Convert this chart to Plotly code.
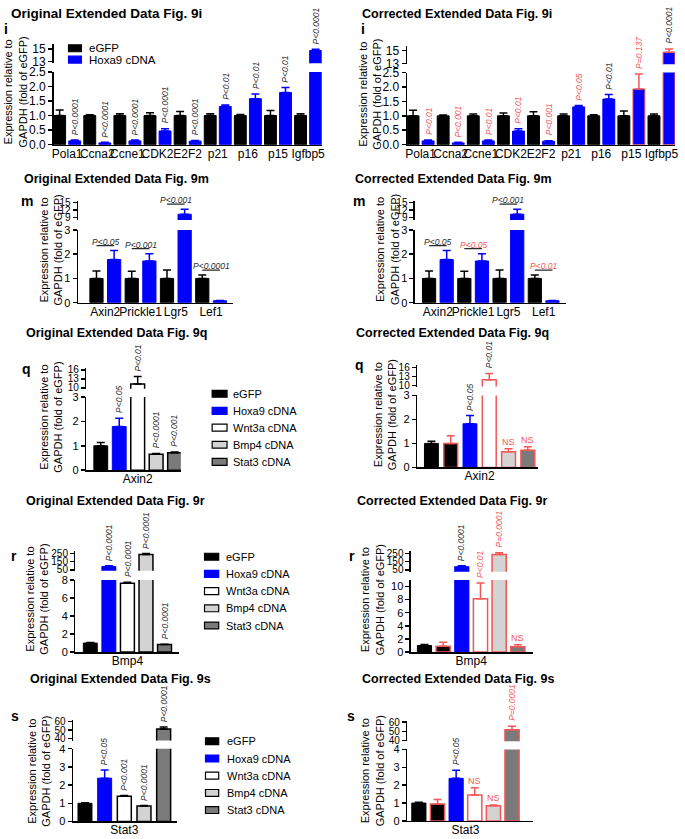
import plotly.graph_objects as go

# ---------------- data ----------------
# Panel i
i_genes = ["Pola1", "Ccna2", "Ccne1", "CDK2", "E2F2", "p21", "p16", "p15", "Igfbp5"]
i_egfp = [1.0, 1.0, 1.0, 1.0, 1.0, 1.0, 1.0, 1.0, 1.0]
i_egfp_err = [0.19, 0.03, 0.06, 0.10, 0.14, 0.06, 0.04, 0.17, 0.06]
i_hoxa9_orig = [0.13, 0.06, 0.13, 0.47, 0.12, 1.31, 1.58, 1.79, 14.75]
i_hoxa9_orig_err = [0.03, 0.02, 0.03, 0.08, 0.02, 0.05, 0.16, 0.17, 0.20]
i_p_orig = ["P<0.0001", "P<0.0001", "P<0.0001", "P<0.0001", "P<0.0001",
            "P<0.01", "P<0.01", "P<0.01", "P<0.0001"]
i_hoxa9_corr = [0.13, 0.06, 0.13, 0.47, 0.12, 1.31, 1.58, 1.93, 14.75]
i_hoxa9_corr_err = [0.03, 0.02, 0.03, 0.08, 0.02, 0.05, 0.16, 0.52, 0.50]
i_p_corr = ["P<0.01", "P<0.001", "P<0.01", "P<0.01", "P<0.001",
            "P<0.05", "P<0.01", "P=0.137", "P<0.0001"]
i_p_corr_changed = [1, 1, 1, 1, 1, 1, 0, 1, 0]
i_bar_corr_changed = [0, 0, 0, 0, 0, 0, 0, 1, 1]

# Panel m
m_genes = ["Axin2", "Prickle1", "Lgr5", "Lef1"]
m_egfp = [1.0, 1.0, 1.0, 1.0]
m_egfp_err = [0.31, 0.30, 0.35, 0.14]
m_hoxa9 = [1.78, 1.72, 10.4, 0.08]
m_hoxa9_err = [0.37, 0.30, 2.0, 0.01]
m_p_orig = ["P<0.05", "P<0.001", "P<0.001", "P<0.0001"]
m_p_corr = ["P<0.05", "P<0.05", "P<0.001", "P<0.01"]
m_p_corr_changed = [0, 1, 0, 1]

# Groups for q, r, s
orig_groups = ["eGFP", "Hoxa9 cDNA", "Wnt3a cDNA", "Bmp4 cDNA", "Stat3 cDNA"]
corr_groups = ["eGFP", "eGFP (repeat)", "Hoxa9 cDNA", "Wnt3a cDNA", "Bmp4 cDNA", "Stat3 cDNA"]
corr_bar_changed = [0, 1, 0, 1, 1, 1]

# Panel q
q_gene = ["Axin2"]
q_orig = [1.0, 1.79, 11.3, 0.65, 0.71]
q_orig_err = [0.13, 0.34, 2.5, 0.03, 0.03]
q_p_orig = ["", "P<0.05", "P<0.01", "P<0.0001", "P<0.001"]
q_corr = [1.0, 1.0, 1.82, 11.9, 0.66, 0.72]
q_corr_err = [0.09, 0.32, 0.34, 2.1, 0.12, 0.14]
q_p_corr = ["", "", "P<0.05", "P<0.01", "NS", "NS"]
q_p_corr_changed = [0, 0, 0, 0, 1, 1]

# Panel r
r_gene = ["Bmp4"]
r_orig = [1.0, 90, 7.64, 238, 0.84]
r_orig_err = [0.05, 8, 0.12, 12, 0.04]
r_p_orig = ["", "P<0.0001", "P<0.0001", "P<0.0001", "P<0.0001"]
r_corr = [1.0, 0.9, 88, 8.14, 238, 0.82]
r_corr_err = [0.15, 0.6, 10, 2.4, 20, 0.3]
r_p_corr = ["", "", "P<0.0001", "P<0.01", "P=0.0001", "NS"]
r_p_corr_changed = [0, 0, 0, 1, 1, 1]

# Panel s
s_gene = ["Stat3"]
s_orig = [1.0, 2.38, 1.38, 0.85, 51.2]
s_orig_err = [0.03, 0.45, 0.05, 0.03, 2.3]
s_p_orig = ["", "P<0.05", "P<0.001", "P<0.0001", "P<0.0001"]
s_corr = [1.0, 0.95, 2.38, 1.45, 0.85, 51.8]
s_corr_err = [0.04, 0.25, 0.45, 0.4, 0.04, 3.7]
s_p_corr = ["", "", "P<0.05", "NS", "NS", "P=0.0001"]
s_p_corr_changed = [0, 0, 0, 1, 1, 1]

# ---------------- styling ----------------
W, H = 685, 839
FONT = "Liberation Sans, Arial, Helvetica, sans-serif"
BLACK, BLUE, WHITE = "#000000", "#0000ff", "#ffffff"
LGRAY, DGRAY = "#d3d3d3", "#7a7a7a"
RED = "#f25757"
PTXT = "#2a2a2a"
YTITLE = "Expression relative to<br>GAPDH (fold of eGFP)"

STYLE = {
    "eGFP": dict(fill=BLACK, line=BLACK, errc=BLACK, lw=1),
    "eGFP (repeat)": dict(fill=BLACK, line=BLACK, errc=BLACK, lw=1.5),
    "Hoxa9 cDNA": dict(fill=BLUE, line=BLUE, errc=BLUE, lw=1),
    "Wnt3a cDNA": dict(fill=WHITE, line=BLACK, errc=BLACK, lw=1.5),
    "Bmp4 cDNA": dict(fill=LGRAY, line=BLACK, errc=BLACK, lw=1.5),
    "Stat3 cDNA": dict(fill=DGRAY, line=BLACK, errc=BLACK, lw=1.5),
}


def px(x):
    return x / W


def py(y):
    return 1 - y / H


fig = go.Figure()
lay = {}
annots = []
shapes = []
axis_count = [0]


def new_pair():
    axis_count[0] += 1
    n = axis_count[0]
    sfx = "" if n == 1 else str(n)
    return "x" + sfx, "y" + sfx, "xaxis" + sfx, "yaxis" + sfx


def ptext(lab):
    return "<i>" + lab.replace("<", "&lt;") + "</i>"


def panel(cats, series, geo, compare=False):
    xl, yl, xlk, ylk = new_pair()
    xu, yu, xuk, yuk = new_pair()
    dom_x = [px(geo["x"][0]), px(geo["x"][1])]
    lt, lb, l0, l1, lticks, lfmt = geo["low"]
    ut, ub, u0, u1, uticks = geo["up"]
    ycommon = dict(showline=True, linecolor=BLACK, linewidth=1.5, ticks="outside",
                   ticklen=4, tickwidth=1.5, tickcolor=BLACK, showgrid=False,
                   zeroline=False, fixedrange=True)
    lay[xlk] = dict(domain=dom_x, range=geo["xr"], type="category",
                    categoryorder="array", categoryarray=cats, anchor=yl,
                    showline=True, linecolor=BLACK, linewidth=1.5, ticks="",
                    showgrid=False, zeroline=False, tickangle=0, fixedrange=True,
                    ticklabelstandoff=-3,
                    tickfont=dict(family=FONT, size=12, color=BLACK))
    lay[xuk] = dict(domain=dom_x, range=geo["xr"], type="category",
                    categoryorder="array", categoryarray=cats, anchor=yu,
                    visible=False, fixedrange=True)
    ylow = dict(domain=[py(lb), py(lt)], range=[l0, l1], anchor=xl,
                tickmode="array", tickvals=lticks,
                tickfont=dict(family=FONT, size=geo["tickfont"], color=BLACK), **ycommon)
    if lfmt:
        ylow["tickformat"] = lfmt
    lay[ylk] = ylow
    lay[yuk] = dict(domain=[py(ub), py(ut)], range=[u0, u1], anchor=xu,
                    tickmode="array", tickvals=uticks,
                    tickfont=dict(family=FONT, size=geo.get("uptickfont", geo["tickfont"]),
                                  color=BLACK), **ycommon)

    n = len(series)
    f = geo["f"]
    wbar = f / n
    tops = [0.0] * len(cats)
    for k, s in enumerate(series):
        off = -0.5 + (k + (1 - f) / 2) / n
        vals, errs = s["y"], s["err"]
        changed = s.get("changed", [0] * len(vals))
        for flag in (False, True):
            yv = [v if bool(c) == flag else None for v, c in zip(vals, changed)]
            if all(v is None for v in yv):
                continue
            ev = [e if bool(c) == flag else 0 for e, c in zip(errs, changed)]
            line_c = RED if flag else s["line"]
            err_c = RED if flag else s["errc"]
            for xa, ya in ((xl, yl), (xu, yu)):
                fig.add_trace(go.Bar(
                    x=cats, y=yv, width=wbar, offset=off, xaxis=xa, yaxis=ya,
                    name=s["name"], showlegend=False, hoverinfo="skip",
                    marker=dict(color=s["fill"], line=dict(color=line_c, width=s["lw"])),
                    error_y=dict(type="data", array=ev, arrayminus=[0] * len(ev),
                                 symmetric=False, color=err_c, thickness=1.5, width=4)))
        for i, (v, e) in enumerate(zip(vals, errs)):
            tops[i] = max(tops[i], v + e)
        if compare:
            continue
        labels = s.get("p", [""] * len(vals))
        pchg = s.get("pchanged", [0] * len(vals))
        for i, lab in enumerate(labels):
            if not lab:
                continue
            top = vals[i] + errs[i]
            yref = yl if top <= l1 else yu
            xc = i + off + wbar / 2
            color = RED if pchg[i] else PTXT
            if lab == "NS":
                annots.append(dict(x=xc, y=top, xref=xl, yref=yref, text=lab,
                                   showarrow=False, xanchor="center", yanchor="bottom",
                                   yshift=0, font=dict(family=FONT, size=9, color=color)))
            else:
                annots.append(dict(x=xc, y=top, xref=xl, yref=yref, text=ptext(lab),
                                   showarrow=False, textangle=-90, xanchor="center",
                                   yanchor="bottom", yshift=3,
                                   font=dict(family=FONT, size=8.5, color=color)))
    if compare:
        labels = geo["plabels"]
        pchg = geo.get("pchanged", [0] * len(cats))
        half = 0.5 / n
        for i, lab in enumerate(labels):
            top = tops[i]
            yref = yl if top <= l1 else yu
            shapes.append(dict(type="line", xref=xl, yref=yref, x0=i - half, x1=i + half,
                               ysizemode="pixel", yanchor=top, y0=5, y1=5,
                               line=dict(color=PTXT, width=1.2)))
            annots.append(dict(x=i, y=top, xref=xl, yref=yref, text=ptext(lab),
                               showarrow=False, xanchor="center", yanchor="middle",
                               yshift=9, font=dict(family=FONT, size=8.5,
                                                   color=RED if pchg[i] else PTXT)))


def series_groups(groups, vals, errs, plabels, bar_changed=None, p_changed=None):
    out = []
    for k, g in enumerate(groups):
        d = dict(name=g, y=[vals[k]], err=[errs[k]], p=[plabels[k]],
                 changed=[bar_changed[k] if bar_changed else 0],
                 pchanged=[p_changed[k] if p_changed else 0])
        d.update(STYLE[g])
        out.append(d)
    return out


def text(x, y, s, size, bold=False, anchor="left"):
    annots.append(dict(xref="paper", yref="paper", x=px(x), y=py(y),
                       text=("<b>%s</b>" % s) if bold else s, showarrow=False,
                       xanchor=anchor, yanchor="middle",
                       font=dict(family=FONT, size=size, color=BLACK)))


def ytitle(x, y):
    annots.append(dict(xref="paper", yref="paper", x=px(x), y=py(y), text=YTITLE,
                       textangle=-90, showarrow=False, xanchor="center",
                       yanchor="middle", font=dict(family=FONT, size=11, color=BLACK)))


def legend(sw, tx, rows, names, size=11):
    for name, yy in zip(names, rows):
        st = STYLE[name]
        shapes.append(dict(type="rect", xref="paper", yref="paper",
                           x0=px(sw[0]), x1=px(sw[1]), y0=py(yy + 3.5), y1=py(yy - 3.5),
                           fillcolor=st["fill"], line=dict(color=st["line"], width=1.2)))
        text(tx, yy, name, size)


# ---------------- panel i ----------------
i_series_orig = [
    dict(name="eGFP", y=i_egfp, err=i_egfp_err, **STYLE["eGFP"]),
    dict(name="Hoxa9 cDNA", y=i_hoxa9_orig, err=i_hoxa9_orig_err, p=i_p_orig, **STYLE["Hoxa9 cDNA"]),
]
panel(i_genes, i_series_orig, dict(x=(52, 322), xr=[-0.45, 8.45], f=0.79, tickfont=12,
                                   low=(66, 140, 0, 2.5, [0, 0.5, 1, 1.5, 2, 2.5], ".1f"),
                                   up=(37.3, 57.3, 12.68, 15.86, [13, 15])))
i_series_corr = [
    dict(name="eGFP", y=i_egfp, err=i_egfp_err, **STYLE["eGFP"]),
    dict(name="Hoxa9 cDNA", y=i_hoxa9_corr, err=i_hoxa9_corr_err, p=i_p_corr,
         pchanged=i_p_corr_changed, changed=i_bar_corr_changed, **STYLE["Hoxa9 cDNA"]),
]
panel(i_genes, i_series_corr, dict(x=(408, 678), xr=[-0.45, 8.45], f=0.79, tickfont=12,
                                   low=(66.7, 140, 0, 2.5, [0, 0.5, 1, 1.5, 2, 2.5], ".1f"),
                                   up=(39.3, 58.3, 12.85, 15.77, [13, 15])))
text(7, 7, "Original Extended Data Fig. 9i", 13.5, bold=True)
text(361, 7, "Corrected Extended Data Fig. 9i", 12.6, bold=True)
text(4, 22, "i", 14, bold=True, anchor="center")
text(364, 22, "i", 14, bold=True, anchor="center")
ytitle(13, 86)
ytitle(370, 89)
legend((67, 80), 86, [42, 53.5], ["eGFP", "Hoxa9 cDNA"], size=11.5)

# ---------------- panel m ----------------
m_series = [
    dict(name="eGFP", y=m_egfp, err=m_egfp_err, **STYLE["eGFP"]),
    dict(name="Hoxa9 cDNA", y=m_hoxa9, err=m_hoxa9_err, **STYLE["Hoxa9 cDNA"]),
]
panel(m_genes, m_series, dict(x=(76.7, 233), xr=[-0.77, 3.63], f=0.75, tickfont=11,
                              uptickfont=10,
                              low=(226.7, 300.7, 0, 3, [0, 1, 2, 3], None),
                              up=(197.3, 216.7, 8.06, 15.67, [9, 12, 15]),
                              plabels=m_p_orig), compare=True)
panel(m_genes, m_series, dict(x=(416, 568), xr=[-0.65, 3.63], f=0.75, tickfont=11,
                              uptickfont=10,
                              low=(226.7, 300.7, 0, 3, [0, 1, 2, 3], None),
                              up=(197.3, 216.7, 8.06, 15.67, [9, 12, 15]),
                              plabels=m_p_corr, pchanged=m_p_corr_changed), compare=True)
text(20, 175, "Original Extended Data Fig. 9m", 12.5, bold=True)
text(354, 175, "Corrected Extended Data Fig. 9m", 12.5, bold=True)
text(25, 197, "m", 14, bold=True, anchor="center")
text(360, 197, "m", 14, bold=True, anchor="center")
ytitle(49, 247)
ytitle(388, 247)

# ---------------- panel q ----------------
panel(q_gene, series_groups(orig_groups, q_orig, q_orig_err, q_p_orig),
      dict(x=(85, 180), xr=[-0.556, 0.466], f=0.75, tickfont=11, uptickfont=10,
           low=(396.7, 471, 0, 3, [0, 1, 2, 3], None),
           up=(367.3, 388.3, 9.67, 16.55, [10, 13, 16])))
panel(q_gene, series_groups(corr_groups, q_corr, q_corr_err, q_p_corr,
                            corr_bar_changed, q_p_corr_changed),
      dict(x=(418.3, 540), xr=[-0.539, 0.505], f=0.72, tickfont=11, uptickfont=10,
           low=(395, 468.3, 0, 3, [0, 1, 2, 3], None),
           up=(364, 386, 9.67, 16.85, [10, 13, 16])))
text(22, 332, "Original Extended Data Fig. 9q", 12.5, bold=True)
text(355, 332, "Corrected Extended Data Fig. 9q", 12.5, bold=True)
text(25, 368, "q", 14, bold=True, anchor="center")
text(360, 364, "q", 14, bold=True, anchor="center")
ytitle(49, 417)
ytitle(386, 415)
legend((211.7, 226.7), 231, [393.3, 410.7, 427.8, 445.2, 462.6], orig_groups)

# ---------------- panel r ----------------
panel(r_gene, series_groups(orig_groups, r_orig, r_orig_err, r_p_orig),
      dict(x=(74, 178.3), xr=[-0.56, 0.556], f=0.75, tickfont=11, uptickfont=10,
           low=(582.7, 656, 0, 8, [0, 2, 4, 6, 8], None),
           up=(553.3, 573.3, 38, 279, [50, 150, 250])))
panel(r_gene, series_groups(corr_groups, r_corr, r_corr_err, r_p_corr,
                            corr_bar_changed, r_p_corr_changed),
      dict(x=(412, 535), xr=[-0.537, 0.553], f=0.76, tickfont=11, uptickfont=10,
           low=(582.7, 656, 0, 11, [0, 2, 4, 6, 8, 10], None),
           up=(553.3, 574.3, 26, 279, [50, 150, 250])))
text(22, 502, "Original Extended Data Fig. 9r", 12.5, bold=True)
text(356, 502, "Corrected Extended Data Fig. 9r", 12.5, bold=True)
text(12.5, 558, "r", 14, bold=True, anchor="center")
text(352.5, 558, "r", 14, bold=True, anchor="center")
ytitle(35, 602)
ytitle(373, 603)
legend((204, 218.3), 224, [559, 576.5, 594, 611.5, 629], orig_groups)

# ---------------- panel s ----------------
panel(s_gene, series_groups(orig_groups, s_orig, s_orig_err, s_p_orig),
      dict(x=(71.7, 176.7), xr=[-0.52, 0.54], f=0.71, tickfont=11, uptickfont=10,
           low=(754.3, 828.3, 0, 4, [0, 1, 2, 3, 4], None),
           up=(725, 746, 37.7, 62, [40, 50, 60])))
panel(s_gene, series_groups(corr_groups, s_corr, s_corr_err, s_p_corr,
                            corr_bar_changed, s_p_corr_changed),
      dict(x=(408.3, 535), xr=[-0.52, 0.605], f=0.76, tickfont=11, uptickfont=10,
           low=(755, 827.7, 0, 4, [0, 1, 2, 3, 4], None),
           up=(726, 746.7, 39.3, 61.4, [40, 50, 60])))
text(26, 683, "Original Extended Data Fig. 9s", 12.5, bold=True)
text(361, 683, "Corrected Extended Data Fig. 9s", 12.5, bold=True)
text(13.3, 721, "s", 14, bold=True, anchor="center")
text(351.7, 721, "s", 14, bold=True, anchor="center")
ytitle(37, 777)
ytitle(373, 777)
legend((205, 218.3), 225, [746.7, 764.3, 781.7, 799.3, 816.7], orig_groups)

fig.update_layout(
    width=W, height=H, autosize=False,
    margin=dict(l=0, r=0, t=0, b=0, pad=0),
    paper_bgcolor="white", plot_bgcolor="white",
    barmode="overlay", showlegend=False,
    font=dict(family=FONT, color=BLACK),
    annotations=annots, shapes=shapes,
    **lay,
)

fig.write_html("out.html", include_plotlyjs=True, full_html=True,
               config={"displayModeBar": False, "staticPlot": True},
               post_script="document.body.style.margin='0px';")
